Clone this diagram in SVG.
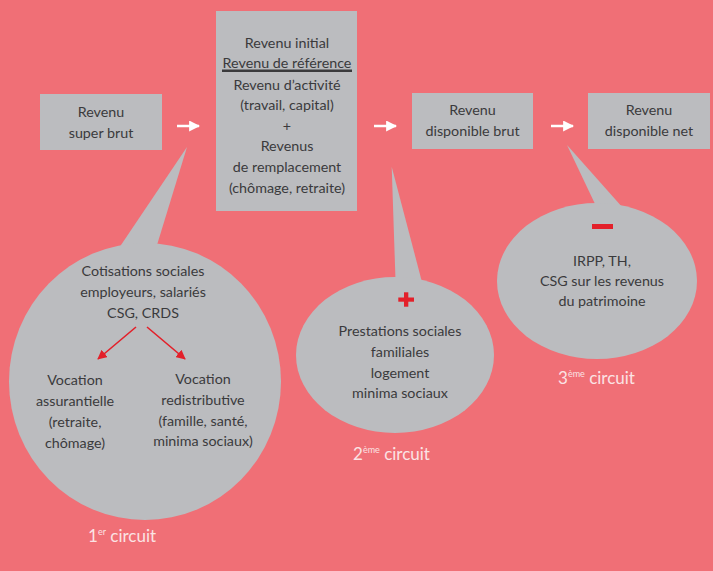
<svg xmlns="http://www.w3.org/2000/svg" width="713" height="571" viewBox="0 0 713 571">
  <defs>
    <style>
      .bg { fill: #F06F76; }
      .box { fill: #BBBCBF; }
      .t { font-family: Lato, "Open Sans", "Liberation Sans", sans-serif; font-size: 14.3px; fill: #3A3A3C; text-anchor: middle; }
      .c { font-family: Lato, "Open Sans", "Liberation Sans", sans-serif; font-size: 17px; fill: #FBE3E4; }
      .sup { font-size: 9px; }
      .red { stroke: #E3202A; stroke-width: 1.6; fill: none; }
      .wa { stroke: #FFFFFF; stroke-width: 2.5; fill: none; }
    </style>
    <marker id="redHead" viewBox="0 0 10 10" refX="9" refY="5" markerWidth="6" markerHeight="6" orient="auto" markerUnits="strokeWidth">
      <path d="M0,0 L10,5 L0,10 Z" fill="#E3202A"/>
    </marker>
    <marker id="whiteHead" viewBox="0 0 10 10" refX="9" refY="5" markerWidth="4.4" markerHeight="4.4" orient="auto" markerUnits="strokeWidth">
      <path d="M0,0 L10,5 L0,10 Z" fill="#FFFFFF"/>
    </marker>
  </defs>

  <rect class="bg" x="0" y="0" width="713" height="571"/>

  <g id="node-super-brut">
    <rect class="box" x="40" y="94" width="122" height="56"/>
    <text class="t" x="101" y="117">Revenu</text>
    <text class="t" x="101" y="138">super brut</text>
  </g>

  <g id="node-revenu-initial">
    <rect class="box" x="216" y="11" width="141" height="200"/>
    <text class="t" x="287" y="48">Revenu initial</text>
    <text class="t" x="287" y="68">Revenu de référence</text>
    <rect x="222" y="69.5" width="130" height="2.5" fill="#3A3A3C"/>
    <text class="t" x="287" y="89.5">Revenu d’activité</text>
    <text class="t" x="287" y="110">(travail, capital)</text>
    <text class="t" x="287" y="131">+</text>
    <text class="t" x="287" y="151">Revenus</text>
    <text class="t" x="287" y="172">de remplacement</text>
    <text class="t" x="287" y="193">(chômage, retraite)</text>
  </g>

  <g id="node-disponible-brut">
    <rect class="box" x="412" y="93" width="121" height="56"/>
    <text class="t" x="472.5" y="115">Revenu</text>
    <text class="t" x="472.5" y="136">disponible brut</text>
  </g>

  <g id="node-disponible-net">
    <rect class="box" x="588" y="93" width="122" height="56"/>
    <text class="t" x="649" y="115">Revenu</text>
    <text class="t" x="649" y="136">disponible net</text>
  </g>

  <g id="bubble-1">
    <polygon class="box" points="119,248 187,147 157,245"/>
    <ellipse class="box" cx="145" cy="381.5" rx="136" ry="138.5"/>
    <text class="t" x="143" y="276">Cotisations sociales</text>
    <text class="t" x="143" y="297">employeurs, salariés</text>
    <text class="t" x="143" y="318">CSG, CRDS</text>
    <text class="t" x="75" y="385">Vocation</text>
    <text class="t" x="75" y="405.5">assurantielle</text>
    <text class="t" x="75" y="427">(retraite,</text>
    <text class="t" x="75" y="447.5">chômage)</text>
    <text class="t" x="203" y="384">Vocation</text>
    <text class="t" x="203" y="404.5">redistributive</text>
    <text class="t" x="203" y="426">(famille, santé,</text>
    <text class="t" x="203" y="446">minima sociaux)</text>
    <text class="c" x="88" y="542">1<tspan class="sup" dy="-7">er</tspan><tspan dy="7"> circuit</tspan></text>
  </g>

  <g id="bubble-2">
    <polygon class="box" points="395.5,280 391.7,166.7 421.7,281"/>
    <ellipse class="box" cx="395" cy="355" rx="99" ry="78"/>
    <rect x="398.3" y="297.5" width="15.7" height="4.2" fill="#E3202A"/>
    <rect x="404" y="292.3" width="4.3" height="14.4" fill="#E3202A"/>
    <text class="t" x="400" y="335.5">Prestations sociales</text>
    <text class="t" x="400" y="357">familiales</text>
    <text class="t" x="400" y="377.5">logement</text>
    <text class="t" x="400" y="398">minima sociaux</text>
    <text class="c" x="353" y="460">2<tspan class="sup" dy="-7">ème</tspan><tspan dy="7"> circuit</tspan></text>
  </g>

  <g id="bubble-3">
    <polygon class="box" points="596,206 567,145 623,208"/>
    <ellipse class="box" cx="597" cy="281" rx="100" ry="78"/>
    <rect x="592" y="224" width="21" height="5" fill="#E3202A"/>
    <text class="t" x="602" y="265.5">IRPP, TH,</text>
    <text class="t" x="602" y="286">CSG sur les revenus</text>
    <text class="t" x="602" y="305.5">du patrimoine</text>
    <text class="c" x="558" y="384">3<tspan class="sup" dy="-7">ème</tspan><tspan dy="7"> circuit</tspan></text>
  </g>

  <g id="connectors">
    <line class="wa" x1="177" y1="126" x2="199" y2="126" marker-end="url(#whiteHead)"/>
    <line class="wa" x1="374" y1="126" x2="396" y2="126" marker-end="url(#whiteHead)"/>
    <line class="wa" x1="551" y1="126" x2="573" y2="126" marker-end="url(#whiteHead)"/>
    <line class="red" x1="136" y1="327" x2="98" y2="359" marker-end="url(#redHead)"/>
    <line class="red" x1="147" y1="327" x2="185" y2="359" marker-end="url(#redHead)"/>
  </g>
</svg>
